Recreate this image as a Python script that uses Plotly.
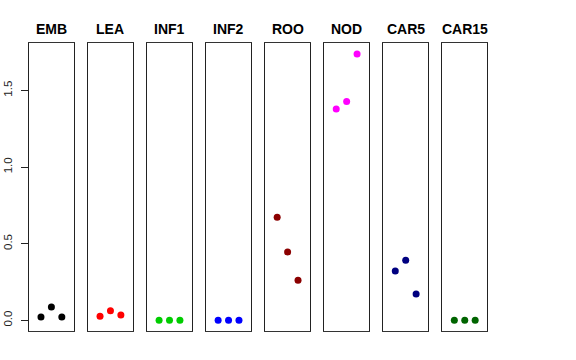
import plotly.graph_objects as go

# ---- data ----
groups = ["EMB", "LEA", "INF1", "INF2", "ROO", "NOD", "CAR5", "CAR15"]
colors = ["#000000", "#FF0000", "#00CD00", "#0000FF", "#8B0000", "#FF00FF", "#000080", "#006400"]
reps = [1, 2, 3]
emb = [0.022, 0.087, 0.022]
lea = [0.026, 0.063, 0.035]
inf1 = [0.0, 0.0, 0.0]
inf2 = [0.0, 0.0, 0.0]
roo = [0.672, 0.446, 0.261]
nod = [1.379, 1.427, 1.738]
car5 = [0.322, 0.392, 0.172]
car15 = [0.0, 0.0, 0.0]
values = [emb, lea, inf1, inf2, roo, nod, car5, car15]
ytick_vals = [0.0, 0.5, 1.0, 1.5]
ytick_text = ["0.0", "0.5", "1.0", "1.5"]

W, H = 576, 360
fig = go.Figure()

left0 = 29.0
step = 59.05
pw = 44.8
ydom = [(H - 331) / H, (H - 43.3) / H]
ymax = max(max(v) for v in values)
ypad = 0.04 * ymax
yrange = [-ypad, ymax + ypad]

layout = dict(
    width=W, height=H,
    margin=dict(l=0, r=0, t=0, b=0, autoexpand=False),
    paper_bgcolor="white", plot_bgcolor="white",
    showlegend=False,
    font=dict(family="Liberation Sans, Arial, sans-serif", color="black"),
    annotations=[],
)

for i, (g, c, v) in enumerate(zip(groups, colors, values)):
    n = "" if i == 0 else str(i + 1)
    fig.add_trace(go.Scatter(
        x=reps, y=v, mode="markers",
        marker=dict(color=c, size=7, line=dict(width=0)),
        xaxis="x" + n, yaxis="y" + n, hoverinfo="skip",
    ))
    x0 = (left0 + i * step) / W
    x1 = (left0 + i * step + pw) / W
    layout["xaxis" + n] = dict(
        domain=[x0, x1], range=[-0.15, 4.15],
        showgrid=False, zeroline=False, showticklabels=False, ticks="",
        showline=True, mirror=True, linecolor="#333", linewidth=1,
        anchor="y" + n, fixedrange=True, automargin=False,
    )
    ya = dict(
        domain=ydom, range=yrange,
        showgrid=False, zeroline=False,
        showline=True, mirror=True, linecolor="#222", linewidth=1,
        anchor="x" + n, fixedrange=True, automargin=False,
    )
    if i == 0:
        ya.update(
            tickmode="array", tickvals=ytick_vals, ticktext=ytick_text,
            ticks="outside", ticklen=7, tickcolor="#222", tickwidth=1,
            tickangle=-90, tickfont=dict(size=11.5, color="#222"),
            ticklabelstandoff=4,
        )
    else:
        ya.update(showticklabels=False, ticks="")
    layout["yaxis" + n] = ya
    layout["annotations"].append(dict(
        text="<b>" + g + "</b>", x=(x0 + x1) / 2, y=(H - 29) / H,
        xref="paper", yref="paper", showarrow=False,
        xanchor="center", yanchor="middle",
        font=dict(size=14, color="black"),
    ))

fig.update_layout(**layout)
fig.write_html("out.html", post_script="document.body.style.margin='0';",
               config={"displayModeBar": False})
